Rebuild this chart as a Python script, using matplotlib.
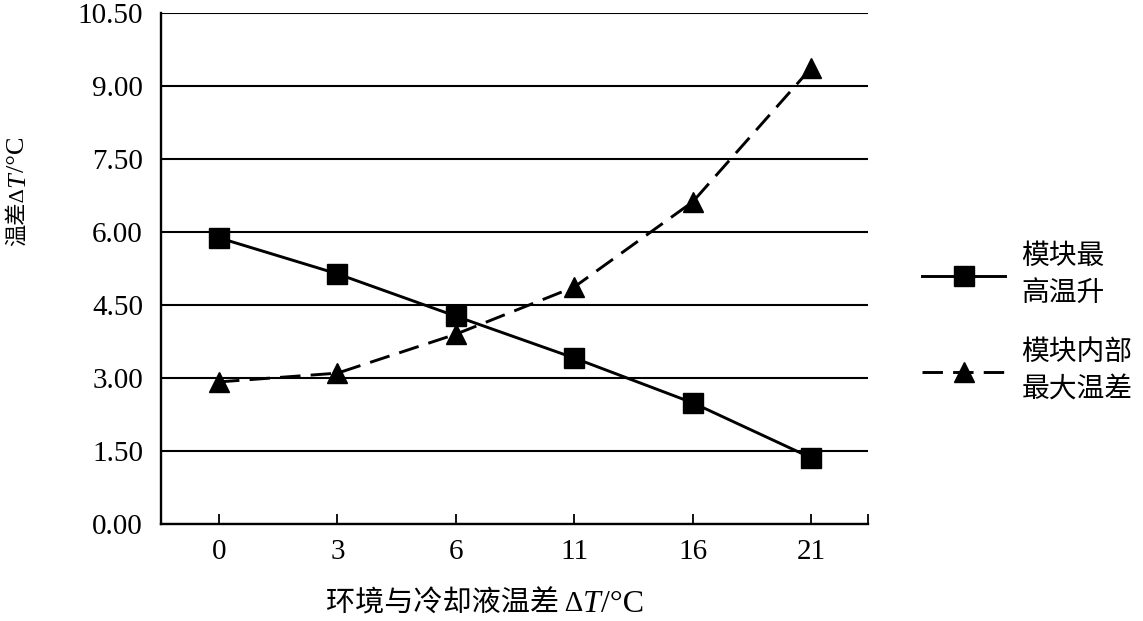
import matplotlib
matplotlib.use("Agg")
import matplotlib.pyplot as plt
from matplotlib.font_manager import FontProperties
import numpy as np

plt.rcParams['font.family'] = ['Liberation Serif', 'Noto Sans CJK SC']

categories = ['0', '3', '6', '11', '16', '21']
max_rise = [5.88, 5.14, 4.27, 3.41, 2.49, 1.36]
max_diff = [2.92, 3.10, 3.90, 4.87, 6.62, 9.37]
yticks = [0.0, 1.5, 3.0, 4.5, 6.0, 7.5, 9.0, 10.5]
labels = ['模块最\n高温升', '模块内部\n最大温差']
xlabel_parts = ['环境与冷却液温差 Δ', 'T', '/°C']
ylabel_parts = ['温差Δ', 'T', '/°C']

W, H = 1143, 621
fig = plt.figure(figsize=(W / 100, H / 100), dpi=100)
ax = fig.add_axes([161/W, 1-524/H, (868-161)/W, (524-13)/H])

x = np.arange(len(categories))
ax.plot(x, max_rise, color='black', lw=2.1, marker='s', markersize=14,
        label=labels[0], zorder=3)
ax.plot(x, max_diff, color='black', lw=2.1, marker='^', markersize=15,
        dashes=(7, 3.5), label=labels[1], zorder=3)

ax.set_xlim(-0.49, 5.48)
ax.set_ylim(0, 10.5)
ax.set_xticks(x)
ax.set_xticklabels(categories)
ax.set_xticks([5.48], minor=True)
ax.set_yticks(yticks)
ax.set_yticklabels([f'{v:.2f}' for v in yticks])
ax.yaxis.grid(True, color='black', lw=1.5)
ax.set_axisbelow(True)
for s in ['top', 'right']:
    ax.spines[s].set_visible(False)
for s in ['left', 'bottom']:
    ax.spines[s].set_linewidth(1.7)
ax.tick_params(axis='x', which='both', direction='in', length=7, width=1.3,
               labelsize=21, pad=11)
ax.tick_params(axis='y', length=0, labelsize=21, pad=13)

# mixed-font axis labels (CJK + italic T)
renderer = fig.canvas.get_renderer()


def fps(cjk_size, roman_size):
    return [FontProperties(family=['Liberation Serif', 'Noto Sans CJK SC'], size=cjk_size),
            FontProperties(family='Liberation Serif', style='italic', size=roman_size),
            FontProperties(family='Liberation Serif', size=roman_size)]


def measure(s, fp, rot):
    t = fig.text(0, 0, s, fontproperties=fp, rotation=rot)
    bb = t.get_window_extent(renderer)
    t.remove()
    return bb.width if rot == 0 else bb.height


def mixed_label(parts, props, cx, cy, rot):
    sizes = [measure(s, fp, rot) for s, fp in zip(parts, props)]
    total = sum(sizes)
    pos = -total / 2
    for s, fp, sz in zip(parts, props, sizes):
        c = pos + sz / 2
        if rot == 0:
            px, py = cx + c, cy
        else:
            px, py = cx, cy + c
        fig.text(px / W, py / H, s, fontproperties=fp, rotation=rot,
                 ha='center', va='center')
        pos += sz


mixed_label(xlabel_parts, fps(21, 23), 485, H - 604, 0)
mixed_label(ylabel_parts, fps(16, 19), 18, H - 191, 90)

leg = fig.legend(loc='center left', bbox_to_anchor=(897/W, 1-324/H),
                 frameon=False, prop=FontProperties(
                     family=['Liberation Serif', 'Noto Sans CJK SC'], size=20),
                 handlelength=3.0, labelspacing=1.2, handletextpad=0.58)
for t in leg.get_texts():
    t.set_linespacing(1.55)
fig.savefig('out.png', dpi=100)
